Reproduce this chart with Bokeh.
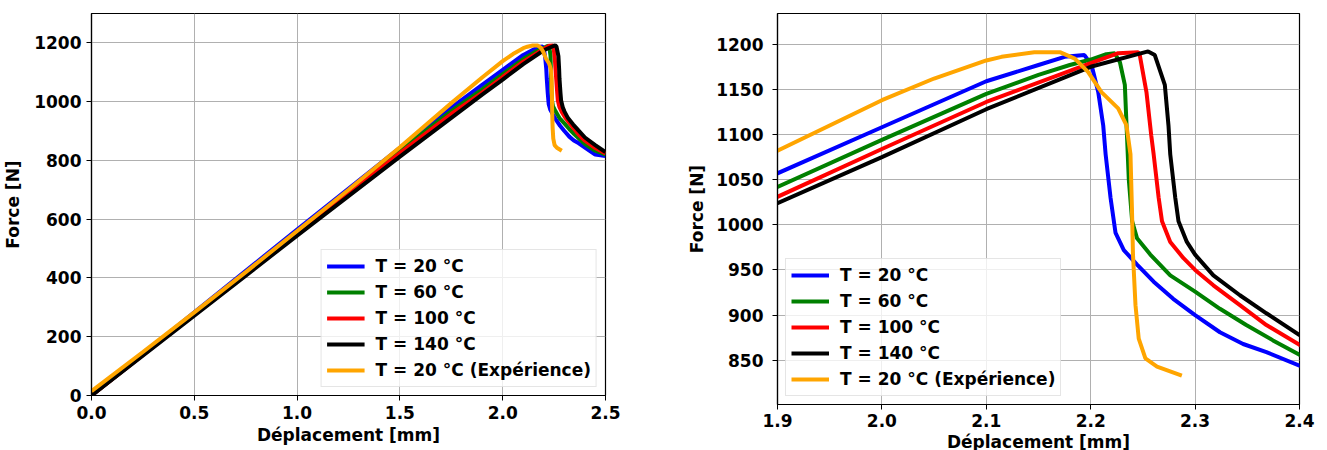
from bokeh.plotting import figure
from bokeh.layouts import row
from bokeh.models import FixedTicker, PrintfTickFormatter, Range1d
from bokeh.embed import file_html
from bokeh.resources import INLINE

# ---- data (Déplacement [mm], Force [N]) ----
x_t20 = [0.0, 0.5, 1.0, 1.5, 1.75, 1.9, 2.0, 2.1, 2.15, 2.175, 2.194, 2.2008, 2.2072, 2.212,
         2.2143, 2.219, 2.2238, 2.2317, 2.2444, 2.2603, 2.279, 2.3, 2.3238, 2.346, 2.3683,
         2.4, 2.45, 2.5]
f_t20 = [0, 283, 565, 843, 980, 1057, 1108, 1159, 1177, 1186, 1188, 1177, 1147, 1110,
         1078, 1030, 991, 972, 956, 937, 918, 900, 881, 868, 859,
         844, 820, 815]

x_t60 = [0.0, 0.5, 1.0, 1.5, 1.75, 1.9, 2.0, 2.1, 2.15, 2.18, 2.2, 2.215, 2.223, 2.228, 2.2327,
         2.2347, 2.2365, 2.2397, 2.2444, 2.2571, 2.2762, 2.3, 2.3238, 2.349, 2.3746, 2.4,
         2.45, 2.5]
f_t60 = [0, 279, 558, 833, 968, 1042, 1094, 1145, 1166, 1177, 1183, 1189, 1190, 1180, 1155,
         1100, 1050, 1004, 985, 967, 944, 926, 907, 889, 872, 856,
         833, 820]

x_t100 = [0.0, 0.5, 1.0, 1.5, 1.75, 1.9, 2.0, 2.1, 2.2, 2.2264, 2.2455, 2.247, 2.2534, 2.258,
          2.2603, 2.2651, 2.2683, 2.2762, 2.2889, 2.3, 2.3175, 2.3429, 2.3683, 2.4, 2.45, 2.5]
f_t100 = [0, 276, 552, 825, 958, 1031, 1084, 1136, 1179, 1190, 1191, 1188, 1147, 1099,
          1078, 1030, 1004, 981, 963, 950, 933, 911, 889, 867, 842, 824]

x_t140 = [0.0, 0.5, 1.0, 1.5, 1.75, 1.9, 2.0, 2.1, 2.2, 2.255, 2.2614, 2.271, 2.2745, 2.2762,
          2.281, 2.2841, 2.2921, 2.3, 2.3175, 2.3429, 2.3683, 2.4, 2.45, 2.5]
f_t140 = [0, 272, 544, 813, 945, 1024, 1075, 1128, 1175, 1192, 1188, 1155, 1110, 1078,
          1030, 1004, 981, 967, 944, 922, 902, 878, 852, 828]

x_exp = [0.0, 0.25, 0.5, 0.75, 1.0, 1.25, 1.5, 1.75, 1.9, 2.0, 2.05, 2.1, 2.1146, 2.146, 2.171,
         2.1848, 2.1976, 2.2103, 2.2263, 2.2343, 2.2381, 2.2395, 2.2405, 2.2429, 2.246,
         2.2524, 2.2635, 2.2873]
f_exp = [15, 148, 283, 420, 560, 700, 845, 995, 1082, 1138, 1162, 1182, 1186, 1191, 1191,
         1184, 1169, 1147, 1129, 1110, 1078, 1018, 967, 911, 874,
         852, 843, 833]

series_labels = ["T = 20 °C", "T = 60 °C", "T = 100 °C", "T = 140 °C", "T = 20 °C (Expérience)"]
series_colors = ["#0000ff", "#008000", "#ff0000", "#000000", "#ffa500"]
series_x = [x_t20, x_t60, x_t100, x_t140, x_exp]
series_f = [f_t20, f_t60, f_t100, f_t140, f_exp]

left_xticks = [0.0, 0.5, 1.0, 1.5, 2.0, 2.5]
left_yticks = [0, 200, 400, 600, 800, 1000, 1200]
right_xticks = [1.9, 2.0, 2.1, 2.2, 2.3, 2.4]
right_yticks = [850, 900, 950, 1000, 1050, 1100, 1150, 1200]

FONT = "DejaVu Sans"
FS = "17px"


def make(xr, yr, xticks, yticks, fw, fh, mbl, mbr, mbt, mbb, loc,
         y_lab_stand, y_axis_stand, x_lab_stand, x_axis_stand):
    p = figure(frame_width=fw, frame_height=fh, x_range=Range1d(*xr), y_range=Range1d(*yr),
               output_backend="svg", toolbar_location=None,
               min_border_left=mbl, min_border_right=mbr, min_border_top=mbt,
               min_border_bottom=mbb)
    p.background_fill_color = "white"
    p.border_fill_color = "white"
    p.outline_line_color = "black"
    p.outline_line_width = 1.2
    for g in (p.xgrid[0], p.ygrid[0]):
        g.grid_line_color = "#b0b0b0"
        g.grid_line_width = 1
    p.xaxis.ticker = FixedTicker(ticks=xticks)
    p.yaxis.ticker = FixedTicker(ticks=yticks)
    p.xaxis.formatter = PrintfTickFormatter(format="%.1f")
    p.yaxis.formatter = PrintfTickFormatter(format="%d")
    p.xaxis.axis_label = "Déplacement [mm]"
    p.yaxis.axis_label = "Force [N]"
    for ax in (p.xaxis[0], p.yaxis[0]):
        ax.axis_line_color = "black"
        ax.axis_line_width = 1.2
        ax.major_tick_line_color = "black"
        ax.major_tick_out = 5
        ax.major_tick_in = 0
        ax.minor_tick_out = 0
        ax.minor_tick_in = 0
        ax.major_label_text_font = FONT
        ax.major_label_text_font_style = "bold"
        ax.major_label_text_font_size = FS
        ax.major_label_text_color = "black"
        ax.axis_label_text_font = FONT
        ax.axis_label_text_font_style = "bold"
        ax.axis_label_text_font_size = FS
        ax.axis_label_text_color = "black"
    p.xaxis.major_label_standoff = x_lab_stand
    p.xaxis.axis_label_standoff = x_axis_stand
    p.yaxis.major_label_standoff = y_lab_stand
    p.yaxis.axis_label_standoff = y_axis_stand
    for xs, fs, lab, col in zip(series_x, series_f, series_labels, series_colors):
        p.line(xs, fs, line_color=col, line_width=4, legend_label=lab)
    lg = p.legend[0]
    lg.location = loc
    lg.margin = 8
    lg.padding = 5
    lg.spacing = 4
    lg.label_height = 22
    lg.glyph_height = 22
    lg.glyph_width = 38
    lg.label_standoff = 11
    lg.label_text_font = FONT
    lg.label_text_font_style = "bold"
    lg.label_text_font_size = FS
    lg.label_text_color = "black"
    lg.background_fill_color = "white"
    lg.background_fill_alpha = 0.8
    lg.border_line_color = "#cccccc"
    lg.border_line_width = 1
    return p


p1 = make((0.0, 2.5), (0, 1300), left_xticks, left_yticks, 514, 382, 90, 60, 13, 55,
          "bottom_right", 5, 8, 5, 3)
p2 = make((1.9, 2.4), (801, 1234), right_xticks, right_yticks, 522, 391, 112, 29, 8, 51,
          "bottom_left", 9, 6, 4, 2)

layout = row(p1, p2)
open("out.html", "w").write(file_html(layout, INLINE))
